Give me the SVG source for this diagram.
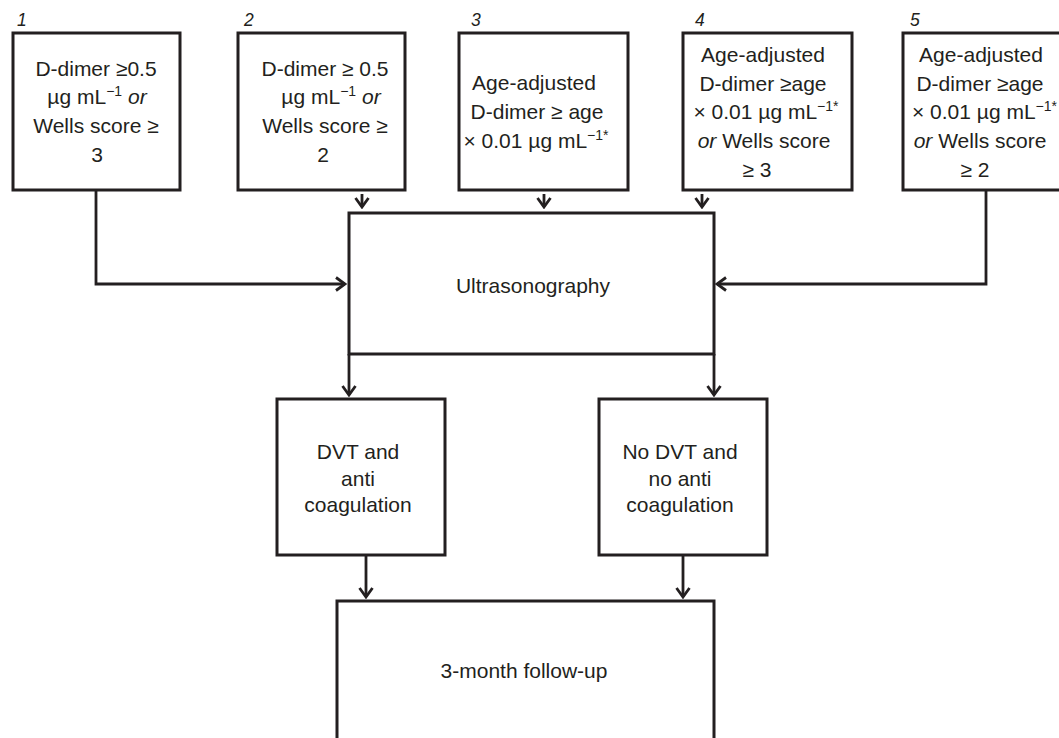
<svg xmlns="http://www.w3.org/2000/svg" width="1059" height="738" viewBox="0 0 1059 738">
  <defs>
    <style>
      .box { fill: #ffffff; stroke: #231f20; stroke-width: 3; }
      .edge { fill: none; stroke: #231f20; stroke-width: 2.8; }
      .t { font-family: "Liberation Sans", Arial, sans-serif; font-size: 21px; fill: #231f20; text-anchor: middle; }
      .num { font-family: "Liberation Sans", Arial, sans-serif; font-size: 17.5px; font-style: italic; fill: #231f20; }
      .sup { font-size: 14px; }
      .ast { font-size: 14px; }
      .it { font-style: italic; }
    </style>
    <marker id="chev" viewBox="-13 -9 15 18" refX="0" refY="0" markerWidth="15" markerHeight="18" markerUnits="userSpaceOnUse" orient="auto">
      <path d="M-9,-6.5 L0,0 L-9,6.5" fill="none" stroke="#231f20" stroke-width="2.8" stroke-linejoin="miter"/>
    </marker>
  </defs>

  <rect width="1059" height="738" fill="#ffffff"/>

  <!-- connectors -->
  <g id="connectors">
    <polyline class="edge" points="96,190 96,284 345,284" marker-end="url(#chev)"/>
    <polyline class="edge" points="986,190 986,284 717,284" marker-end="url(#chev)"/>
    <line class="edge" x1="362" y1="194" x2="362" y2="207" marker-end="url(#chev)"/>
    <line class="edge" x1="544" y1="194" x2="544" y2="207" marker-end="url(#chev)"/>
    <line class="edge" x1="702" y1="194" x2="702" y2="207" marker-end="url(#chev)"/>
    <line class="edge" x1="349" y1="354" x2="349" y2="395" marker-end="url(#chev)"/>
    <line class="edge" x1="714" y1="354" x2="714" y2="395" marker-end="url(#chev)"/>
    <line class="edge" x1="366" y1="555" x2="366" y2="597" marker-end="url(#chev)"/>
    <line class="edge" x1="683" y1="555" x2="683" y2="597" marker-end="url(#chev)"/>
  </g>

  <!-- criterion 1 -->
  <g id="node-1">
    <text class="num" x="17" y="26">1</text>
    <rect class="box" x="13" y="33" width="167" height="157"/>
    <text class="t" x="96" y="76">D-dimer ≥0.5</text>
    <text class="t" x="97" y="104">µg mL<tspan class="sup" dy="-8">−1</tspan><tspan dy="8"> </tspan><tspan class="it">or</tspan></text>
    <text class="t" x="96" y="133">Wells score ≥</text>
    <text class="t" x="97" y="162">3</text>
  </g>

  <!-- criterion 2 -->
  <g id="node-2">
    <text class="num" x="244" y="26">2</text>
    <rect class="box" x="238" y="33" width="167" height="157"/>
    <text class="t" x="325" y="76">D-dimer ≥ 0.5</text>
    <text class="t" x="331" y="104">µg mL<tspan class="sup" dy="-8">−1</tspan><tspan dy="8"> </tspan><tspan class="it">or</tspan></text>
    <text class="t" x="325" y="133">Wells score ≥</text>
    <text class="t" x="323" y="162">2</text>
  </g>

  <!-- criterion 3 -->
  <g id="node-3">
    <text class="num" x="471" y="26">3</text>
    <rect class="box" x="459" y="33" width="169" height="157"/>
    <text class="t" x="534" y="90">Age-adjusted</text>
    <text class="t" x="537" y="119">D-dimer ≥ age</text>
    <text class="t" x="536" y="148">× 0.01 µg mL<tspan class="sup" dy="-8">−1</tspan><tspan class="ast">*</tspan></text>
  </g>

  <!-- criterion 4 -->
  <g id="node-4">
    <text class="num" x="695" y="26">4</text>
    <rect class="box" x="683" y="33" width="169" height="157"/>
    <text class="t" x="763" y="62">Age-adjusted</text>
    <text class="t" x="763" y="91">D-dimer ≥age</text>
    <text class="t" x="766" y="119">× 0.01 µg mL<tspan class="sup" dy="-8">−1</tspan><tspan class="ast">*</tspan></text>
    <text class="t" x="764" y="148"><tspan class="it">or</tspan> Wells score</text>
    <text class="t" x="757" y="177">≥ 3</text>
  </g>

  <!-- criterion 5 (runs past the right edge) -->
  <g id="node-5">
    <text class="num" x="910" y="26">5</text>
    <rect class="box" x="903" y="33" width="180" height="157"/>
    <text class="t" x="981" y="62">Age-adjusted</text>
    <text class="t" x="980" y="91">D-dimer ≥age</text>
    <text class="t" x="912" y="119" style="text-anchor:start">× 0.01 µg mL<tspan class="sup" dy="-8">−1</tspan><tspan class="ast">*</tspan></text>
    <text class="t" x="980" y="148"><tspan class="it">or</tspan> Wells score</text>
    <text class="t" x="975" y="177">≥ 2</text>
  </g>

  <!-- ultrasonography -->
  <g id="node-ultrasonography">
    <rect class="box" x="349" y="213" width="365" height="141"/>
    <text class="t" x="533" y="293">Ultrasonography</text>
  </g>

  <!-- outcome: DVT -->
  <g id="node-dvt">
    <rect class="box" x="277" y="399" width="168" height="156"/>
    <text class="t" x="358" y="459">DVT and</text>
    <text class="t" x="358" y="486">anti</text>
    <text class="t" x="358" y="512">coagulation</text>
  </g>

  <!-- outcome: no DVT -->
  <g id="node-nodvt">
    <rect class="box" x="599" y="399" width="168" height="156"/>
    <text class="t" x="680" y="459">No DVT and</text>
    <text class="t" x="680" y="486">no anti</text>
    <text class="t" x="680" y="512">coagulation</text>
  </g>

  <!-- follow-up (runs past the bottom edge) -->
  <g id="node-followup">
    <rect class="box" x="337" y="601" width="377" height="200"/>
    <text class="t" x="524" y="678">3-month follow-up</text>
  </g>
</svg>
